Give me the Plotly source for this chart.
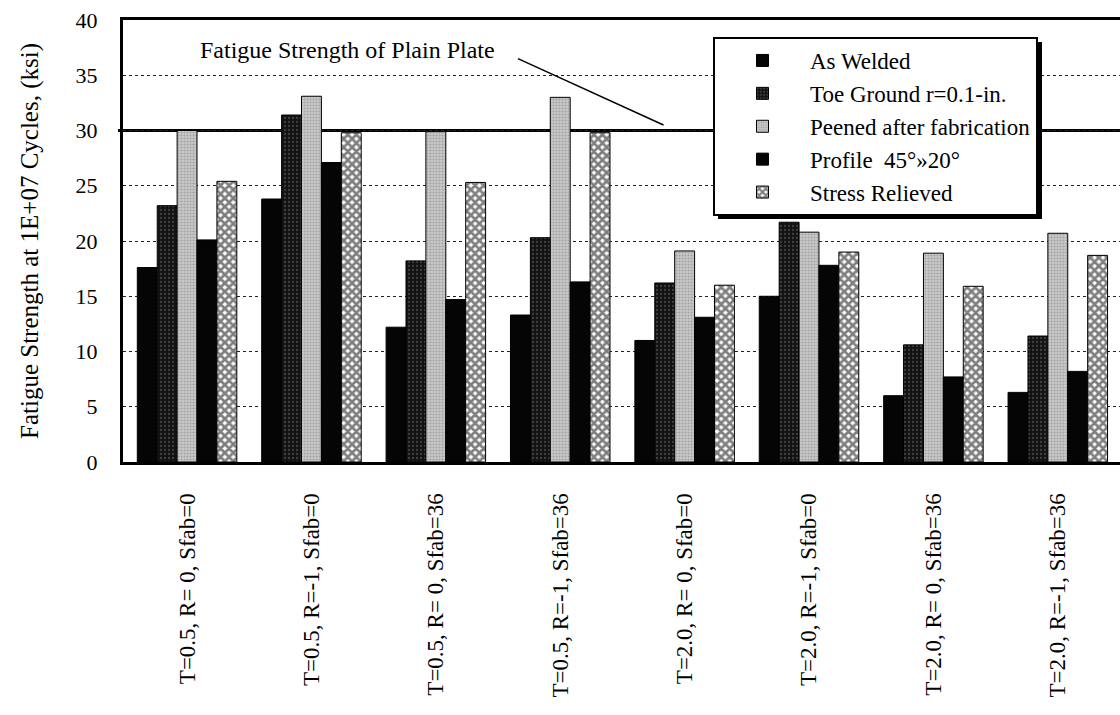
import plotly.graph_objects as go

# Test conditions (x categories)
categories = [
    "T=0.5, R= 0, Sfab=0",
    "T=0.5, R=-1, Sfab=0",
    "T=0.5, R= 0, Sfab=36",
    "T=0.5, R=-1, Sfab=36",
    "T=2.0, R= 0, Sfab=0",
    "T=2.0, R=-1, Sfab=0",
    "T=2.0, R= 0, Sfab=36",
    "T=2.0, R=-1, Sfab=36",
]

# Fatigue strength at 1E+07 cycles (ksi) for each treatment
as_welded = [17.6, 23.8, 12.2, 13.3, 11.0, 15.0, 6.0, 6.3]
toe_ground = [23.2, 31.4, 18.2, 20.3, 16.2, 21.7, 10.6, 11.4]
peened = [30.0, 33.1, 29.9, 33.0, 19.1, 20.8, 18.9, 20.7]
profile = [20.1, 27.1, 14.7, 16.3, 13.1, 17.8, 7.7, 8.2]
stress_relieved = [25.4, 29.8, 25.3, 29.8, 16.0, 19.0, 15.9, 18.7]

plain_plate = 30.0
y_ticks = [0, 5, 10, 15, 20, 25, 30, 35, 40]

SERIF = "Liberation Serif, Times New Roman, serif"
x_pos = list(range(len(categories)))

series = [
    ("As Welded", as_welded, dict(color="#050505")),
    ("Toe Ground r=0.1-in.", toe_ground,
     dict(color="#1a1a1a", pattern=dict(shape=".", fgcolor="#6e6e6e",
                                        bgcolor="#121212", size=4, solidity=0.25))),
    ("Peened after fabrication", peened,
     dict(color="#b8b8b8", pattern=dict(shape=".", fgcolor="#7a7a7a",
                                        bgcolor="#cacaca", size=3, solidity=0.4))),
    ("Profile  45°»20°", profile, dict(color="#050505")),
    ("Stress Relieved", stress_relieved,
     dict(color="#ffffff", pattern=dict(shape="x", fgcolor="#000000",
                                        bgcolor="#ffffff", size=6, solidity=0.7))),
]

fig = go.Figure()
for i, (name, vals, mk) in enumerate(series):
    mk = dict(mk)
    mk["line"] = dict(color="#000000", width=1)
    fig.add_trace(go.Bar(
        x=x_pos, y=vals, name=name, marker=mk,
        legendgroup=f"g{i}",
    ))

# Plain plate fatigue strength reference line (behind the bars)
fig.add_shape(type="line", xref="paper", yref="y", x0=-0.005, x1=1,
              y0=plain_plate, y1=plain_plate, layer="below",
              line=dict(color="#000000", width=3))

# Leader line from the label to the reference line
fig.add_shape(type="line", xref="x", yref="y", x0=2.66, y0=36.5, x1=3.83, y1=30.5,
              line=dict(color="#000000", width=1.5))
fig.add_annotation(x=1.29, y=37.3, xref="x", yref="y",
                   text="Fatigue Strength of Plain Plate", showarrow=False,
                   font=dict(family=SERIF, size=24, color="#000000"))

# Legend drop shadow
fig.add_shape(type="rect", xref="paper", yref="paper",
              x0=(718 - 123) / 997, x1=(1042 - 123) / 997,
              y0=(462 - 219) / 442, y1=(462 - 42) / 442,
              fillcolor="#000000", line=dict(width=0), layer="above")

fig.update_layout(
    width=1120, height=715,
    margin=dict(l=123, r=0, t=20, b=253),
    paper_bgcolor="#ffffff", plot_bgcolor="#ffffff",
    barmode="group", bargap=0.2, bargroupgap=0,
    font=dict(family=SERIF, size=22, color="#000000"),
    showlegend=True,
    legend=dict(
        x=(713 - 123) / 997, y=(462 - 37) / 442, xanchor="left", yanchor="top",
        bgcolor="#ffffff", bordercolor="#000000", borderwidth=2,
        font=dict(family=SERIF, size=23, color="#000000"),
        tracegroupgap=0, traceorder="normal", itemwidth=85,
    ),
    xaxis=dict(
        range=[-0.515, 7.5], tickmode="array", tickvals=x_pos, ticktext=categories,
        tickangle=-90, showgrid=False, zeroline=False,
        showline=True, linecolor="#000000", linewidth=3, mirror=True,
        ticks="", ticklabelstandoff=19,
        tickfont=dict(family=SERIF, size=23, color="#000000"),
    ),
    yaxis=dict(
        range=[0, 40], tickmode="array", tickvals=y_ticks,
        showgrid=True, gridcolor="#222222", gridwidth=1, griddash="dot",
        zeroline=False, showline=True, linecolor="#000000", linewidth=3,
        ticks="", ticklabelstandoff=18,
        tickfont=dict(family=SERIF, size=22, color="#000000"),
        title=dict(text="Fatigue Strength at 1E+07 Cycles, (ksi)",
                   font=dict(family=SERIF, size=25, color="#000000"), standoff=30),
    ),
)

fig.write_html("out.html")
